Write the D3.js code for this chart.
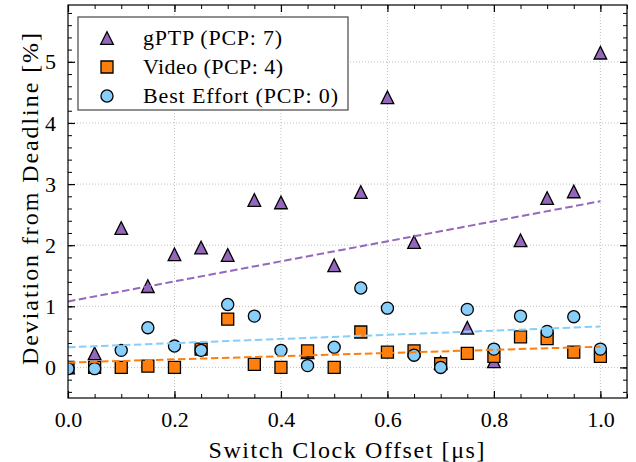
<!DOCTYPE html>
<html>
<head>
<meta charset="utf-8" />
<title>Deviation from Deadline</title>
<script src="https://d3js.org/d3.v7.min.js"></script>
<style>
  body { margin: 0; background: #fff; }
  svg text { font-family: "Liberation Serif", "Times New Roman", serif; fill: #000; }
</style>
</head>
<body>
<div id="chart"></div>
<script>
// switch clock offsets [us]
const offsets = [0, 0.05, 0.1, 0.15, 0.2, 0.25, 0.3, 0.35, 0.4, 0.45, 0.5,
                 0.55, 0.6, 0.65, 0.7, 0.75, 0.8, 0.85, 0.9, 0.95, 1.0];

// deviation from deadline [%]
const gptp = [0.0, 0.23, 2.28, 1.33, 1.85, 1.96, 1.84, 2.74, 2.70, 0.25, 1.67,
              2.87, 4.42, 2.05, 0.08, 0.65, 0.10, 2.08, 2.77, 2.88, 5.15];
const video = [0.0, 0.0, 0.0, 0.02, 0.0, 0.30, 0.79, 0.05, 0.0, 0.27, 0.0,
               0.58, 0.25, 0.27, 0.06, 0.23, 0.18, 0.50, 0.47, 0.25, 0.18];
const bestEffort = [-0.02, -0.02, 0.28, 0.65, 0.35, 0.28, 1.03, 0.84, 0.28, 0.03, 0.33,
                    1.30, 0.97, 0.20, 0.0, 0.95, 0.30, 0.84, 0.59, 0.83, 0.30];

// dashed trend lines, value at offset 0 and at offset 1
const trendX = [0, 1.0];
const gptpTrend = [1.08, 2.72];
const videoTrend = [0.08, 0.34];
const beTrend = [0.33, 0.67];

const xTicks = [0, 0.2, 0.4, 0.6, 0.8, 1.0];
const yTicks = [0, 1, 2, 3, 4, 5];

// matplotlib-like triangle: as wide as it is tall
const triangle = {
  draw(ctx, size) {
    const r = Math.sqrt(size) / 2;
    ctx.moveTo(0, -r);
    ctx.lineTo(r, r);
    ctx.lineTo(-r, r);
    ctx.closePath();
  }
};

const series = [
  {name: "gPTP (PCP: 7)", values: gptp, trend: gptpTrend, color: "#9467bd", shape: triangle, size: 160},
  {name: "Video (PCP: 4)", values: video, trend: videoTrend, color: "#ff7f0e", shape: d3.symbolSquare, size: 144},
  {name: "Best Effort (PCP: 0)", values: bestEffort, trend: beTrend, color: "#87cefa", shape: d3.symbolCircle, size: 115}
];

const width = 636, height = 462;
const margin = {top: 5, right: 9, bottom: 64, left: 68};
const w = width - margin.left - margin.right;
const h = height - margin.top - margin.bottom;

const svg = d3.select("#chart").append("svg")
  .attr("width", width)
  .attr("height", height);

const g = svg.append("g")
  .attr("transform", "translate(" + margin.left + "," + margin.top + ")");

const x = d3.scaleLinear().domain([0, 1.05]).range([0, w]);
const y = d3.scaleLinear().domain([-0.5, 5.93]).range([h, 0]);

// grid
g.append("g").selectAll("line").data(xTicks.slice(1)).enter().append("line")
  .attr("x1", d => x(d)).attr("x2", d => x(d))
  .attr("y1", 0).attr("y2", h)
  .attr("stroke", "#b0b0b0").attr("stroke-width", 0.8).attr("stroke-dasharray", "1,2");
g.append("g").selectAll("line").data(yTicks).enter().append("line")
  .attr("x1", 0).attr("x2", w)
  .attr("y1", d => y(d)).attr("y2", d => y(d))
  .attr("stroke", "#b0b0b0").attr("stroke-width", 0.8).attr("stroke-dasharray", "1,2");

// axes, ticks pointing inside on all four sides
const xMinor = d3.range(0, 1.051, 0.05);
const yMinor = d3.range(-0.4, 5.93, 0.2);

function addAxis(axisFn, scale, major, minor, transform, labels, pad) {
  g.append("g").attr("transform", transform)
    .call(axisFn(scale).tickValues(minor).tickSize(-4).tickFormat(""))
    .call(a => a.select(".domain").remove())
    .selectAll("line").attr("stroke-width", 1);
  const ax = g.append("g").attr("transform", transform)
    .call(axisFn(scale).tickValues(major).tickSize(-7).tickPadding(pad)
      .tickFormat(labels ? labels : ""));
  ax.attr("font-family", null);
  ax.select(".domain").remove();
  ax.selectAll("line").attr("stroke-width", 1.2);
  ax.selectAll("text").style("font-size", "22px");
}

addAxis(d3.axisBottom, x, xTicks, xMinor, "translate(0," + h + ")", d3.format(".1f"), 13);
addAxis(d3.axisTop, x, xTicks, xMinor, "translate(0,0)", null, 3);
addAxis(d3.axisLeft, y, yTicks, yMinor, "translate(0,0)", d3.format("d"), 12);
addAxis(d3.axisRight, y, yTicks, yMinor, "translate(" + w + ",0)", null, 3);

// clip
svg.append("defs").append("clipPath").attr("id", "clip")
  .append("rect").attr("width", w).attr("height", h);
const plot = g.append("g").attr("clip-path", "url(#clip)");

// markers
series.forEach(s => {
  plot.append("g").selectAll("path").data(s.values).enter().append("path")
    .attr("transform", (d, i) => "translate(" + x(offsets[i]) + "," + y(d) + ")")
    .attr("d", d3.symbol().type(s.shape).size(s.size))
    .attr("fill", s.color)
    .attr("stroke", "#000")
    .attr("stroke-width", 1.3);
});

// trend lines
const line = d3.line().x((d, i) => x(trendX[i])).y(d => y(d));
series.forEach(s => {
  plot.append("path")
    .datum(s.trend)
    .attr("d", line)
    .attr("fill", "none")
    .attr("stroke", s.color)
    .attr("stroke-width", 2)
    .attr("stroke-dasharray", "7.5,3.5");
});

// frame
g.append("rect").attr("width", w).attr("height", h)
  .attr("fill", "none").attr("stroke", "#000").attr("stroke-width", 1.2);

// axis labels
svg.append("text")
  .attr("x", margin.left + w / 2 - 1).attr("y", 458)
  .attr("text-anchor", "middle").style("font-size", "24px")
  .attr("textLength", 276).attr("lengthAdjust", "spacing")
  .text("Switch Clock Offset [μs]");
svg.append("text")
  .attr("transform", "translate(38,199) rotate(-90)")
  .attr("text-anchor", "middle").style("font-size", "24px")
  .attr("textLength", 332).attr("lengthAdjust", "spacing")
  .text("Deviation from Deadline [%]");

// legend
const legendWidths = [139, 140, 195];
const legend = g.append("g").attr("transform", "translate(10,12)");
legend.append("rect").attr("width", 270).attr("height", 93)
  .attr("fill", "#fff").attr("stroke", "#555").attr("stroke-width", 1.3);
series.forEach((s, k) => {
  const row = legend.append("g").attr("transform", "translate(0," + (21 + k * 29) + ")");
  row.append("path")
    .attr("transform", "translate(29,0)")
    .attr("d", d3.symbol().type(s.shape).size(s.size))
    .attr("fill", s.color).attr("stroke", "#000").attr("stroke-width", 1.3);
  row.append("text").attr("x", 65).attr("y", 7)
    .style("font-size", "22px")
    .attr("textLength", legendWidths[k]).attr("lengthAdjust", "spacing")
    .text(s.name);
});
</script>
</body>
</html>
